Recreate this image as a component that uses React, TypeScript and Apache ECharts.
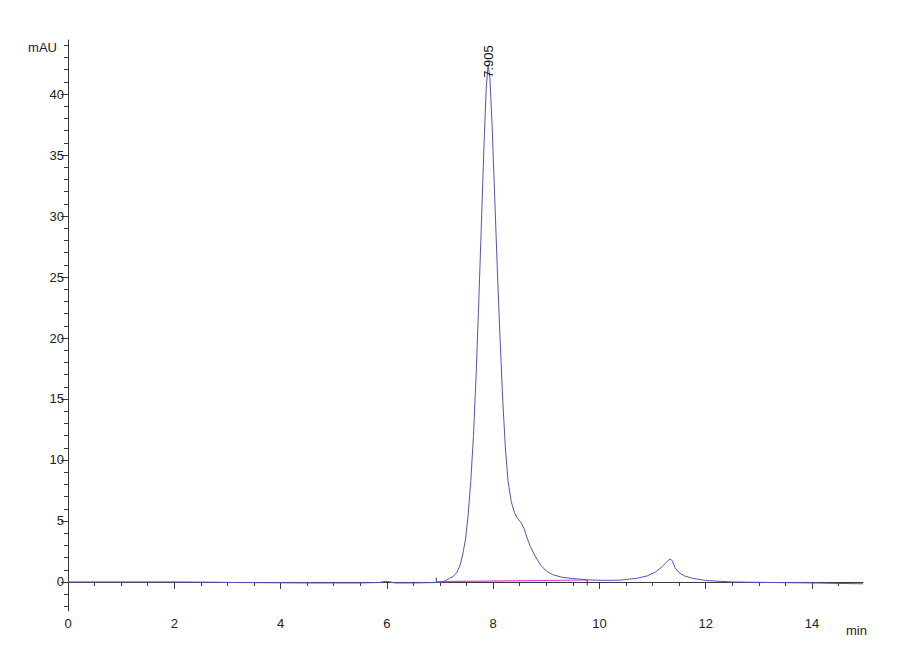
import React, { useEffect, useRef } from "react";
import * as echarts from "echarts";

// Chromatogram trace: [time (min), absorbance (mAU)]
const traceTime = [
  0, 1, 2, 2.8, 3.2, 3.6, 4, 4.5, 5, 5.5, 5.85, 5.97, 6.05, 6.15, 6.5, 6.9,
  7.05, 7.1, 7.18, 7.25, 7.32, 7.38, 7.43, 7.48, 7.53, 7.58, 7.63, 7.68, 7.73,
  7.78, 7.83, 7.87, 7.905, 7.94, 7.98, 8.03, 8.08, 8.13, 8.18, 8.23, 8.28,
  8.34, 8.4, 8.46, 8.52, 8.58, 8.64, 8.7, 8.8, 8.9, 9.0, 9.12, 9.3, 9.5, 9.8,
  10.1, 10.4, 10.7, 10.9, 11.05, 11.18, 11.28, 11.33, 11.37, 11.42, 11.5,
  11.6, 11.75, 12.0, 12.5, 13, 13.5, 14, 14.5, 14.96,
];
const traceAbs = [
  0, 0, 0, -0.02, -0.05, -0.06, -0.07, -0.08, -0.08, -0.08, -0.05, 0.05, 0.02,
  -0.08, -0.08, -0.05, 0.0, 0.1, 0.3, 0.45, 0.8, 1.4, 2.3, 3.5, 5.5, 8.3, 12,
  17, 23, 29.5, 36, 40.5, 42.4, 41.3, 37.5, 31.5, 25.5, 20, 15, 11, 8.3, 6.6,
  5.7, 5.2, 4.9, 4.4, 3.6, 2.9, 2.05, 1.35, 0.9, 0.6, 0.38, 0.28, 0.17, 0.13,
  0.15, 0.3, 0.5, 0.8, 1.25, 1.7, 1.88, 1.75, 1.2, 0.75, 0.5, 0.3, 0.12, 0.0,
  -0.03, -0.06, -0.08, -0.12, -0.15,
];

// Integration baseline of the main peak
const baselineStart = [6.93, 0.02];
const baselineEnd = [9.77, 0.16];
const startMarkTop = 0.35;
const endMarkBottom = -0.3;

// Peak annotation
const peakTime = 7.905;
const peakHeight = 42.4;
const peakLabel = "7.905";

// Axes
const xMin = 0;
const xMax = 14.96;
const yMin = -2.38;
const yMax = 44.43;
const xMajorTicks = [0, 2, 4, 6, 8, 10, 12, 14];
const xMinorTicks = [
  0.5, 1, 1.5, 2.5, 3, 3.5, 4.5, 5, 5.5, 6.5, 7, 7.5, 8.5, 9, 9.5, 10.5, 11,
  11.5, 12.5, 13, 13.5, 14.5,
];
const yMajorTicks = [0, 5, 10, 15, 20, 25, 30, 35, 40];
const yMinorTicks = [
  -2, -1, 1, 2, 3, 4, 6, 7, 8, 9, 11, 12, 13, 14, 16, 17, 18, 19, 21, 22, 23,
  24, 26, 27, 28, 29, 31, 32, 33, 34, 36, 37, 38, 39, 41, 42, 43, 44,
];

const FONT = "'Liberation Sans', Arial, sans-serif";
const AXIS_COLOR = "#3a3a3a";
const TRACE_COLOR = "#5252c8";
const BASE_COLOR = "#e040e0";

export default function App() {
  const ref = useRef<HTMLDivElement>(null);
  useEffect(() => {
    document.body.style.margin = "0";
    const chart = echarts.init(ref.current!, undefined, { renderer: "svg" });
    const traceData = traceTime.map((t, i) => [t, traceAbs[i]]);
    const axisCommon = {
      type: "value" as const,
      splitLine: { show: false },
      axisLine: { show: true, lineStyle: { color: AXIS_COLOR, width: 1 } },
    };
    chart.setOption({
      animation: false,
      backgroundColor: "#ffffff",
      grid: { left: 68, top: 40, width: 795, height: 571, containLabel: false },
      xAxis: [
        {
          ...axisCommon,
          min: xMin,
          max: xMax,
          axisTick: {
            show: true,
            length: 7,
            customValues: xMajorTicks,
            lineStyle: { color: AXIS_COLOR },
          },
          axisLabel: {
            customValues: xMajorTicks,
            margin: 6,
            color: "#222",
            fontSize: 13,
            fontFamily: FONT,
          },
        },
        {
          ...axisCommon,
          min: xMin,
          max: xMax,
          position: "bottom",
          axisLine: { show: false },
          axisTick: {
            show: true,
            length: 4,
            customValues: xMinorTicks,
            lineStyle: { color: AXIS_COLOR },
          },
          axisLabel: { show: false },
        },
      ],
      yAxis: [
        {
          ...axisCommon,
          min: yMin,
          max: yMax,
          axisTick: {
            show: true,
            length: 7,
            customValues: yMajorTicks,
            lineStyle: { color: AXIS_COLOR },
          },
          axisLabel: {
            customValues: yMajorTicks,
            margin: 4,
            color: "#222",
            fontSize: 13,
            fontFamily: FONT,
          },
        },
        {
          ...axisCommon,
          min: yMin,
          max: yMax,
          position: "left",
          axisLine: { show: false },
          axisTick: {
            show: true,
            length: 4,
            customValues: yMinorTicks,
            lineStyle: { color: AXIS_COLOR },
          },
          axisLabel: { show: false },
        },
      ],
      graphic: [
        {
          type: "text",
          right: 843,
          top: 41,
          style: { text: "mAU", fill: "#222", font: `13px ${FONT}` },
        },
        {
          type: "text",
          left: 846,
          top: 624,
          style: { text: "min", fill: "#222", font: `13px ${FONT}` },
        },
      ],
      series: [
        {
          type: "line",
          data: traceData,
          showSymbol: false,
          symbol: "none",
          lineStyle: { color: TRACE_COLOR, width: 1 },
          z: 3,
          markPoint: {
            symbol: "circle",
            symbolSize: 0,
            data: [
              {
                coord: [peakTime, peakHeight],
                label: {
                  show: true,
                  formatter: peakLabel,
                  rotate: 90,
                  position: "inside",
                  align: "left",
                  verticalAlign: "middle",
                  offset: [-13, 0],
                  color: "#111",
                  fontSize: 13,
                  fontFamily: FONT,
                },
              },
            ],
          },
        },
        {
          type: "line",
          data: [baselineStart, baselineEnd],
          showSymbol: false,
          symbol: "none",
          lineStyle: { color: BASE_COLOR, width: 1.2 },
          z: 2,
        },
        {
          type: "line",
          data: [baselineStart, [baselineStart[0], startMarkTop]],
          showSymbol: false,
          symbol: "none",
          lineStyle: { color: "#333", width: 1 },
          z: 4,
        },
        {
          type: "line",
          data: [baselineEnd, [baselineEnd[0], endMarkBottom]],
          showSymbol: false,
          symbol: "none",
          lineStyle: { color: "#333", width: 1 },
          z: 4,
        },
      ],
    });
    return () => chart.dispose();
  }, []);
  return <div ref={ref} style={{ width: 900, height: 660 }} />;
}
